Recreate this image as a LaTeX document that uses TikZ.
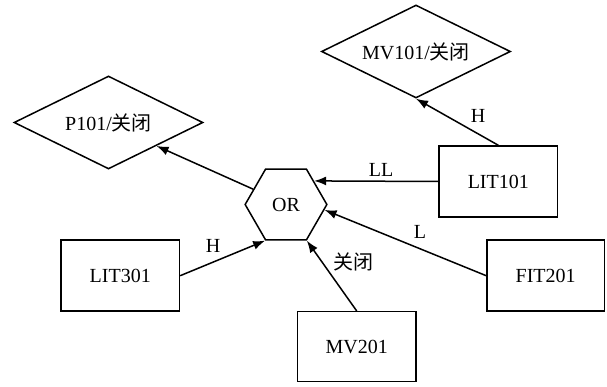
\documentclass[tikz,border=0pt]{standalone}
\usepackage{fontspec}
\setmainfont{Liberation Serif}
\newfontfamily\cjk{Noto Sans CJK SC}
\usetikzlibrary{shapes.geometric,arrows.meta}
\tikzset{
  base/.style={draw=black, line width=1.5pt, inner sep=0pt, font=\fontsize{20}{23}\selectfont},
  boxnode/.style={base, rectangle, minimum width=118.5pt, minimum height=71pt},
  decision/.style={base, diamond, aspect=2, minimum width=189pt, minimum height=93pt},
  gate/.style={base, regular polygon, regular polygon sides=6, minimum size=81.7pt},
  conn/.style={line width=1.5pt, -{Latex[length=12pt,width=9pt]}},
  lbl/.style={inner sep=0pt, font=\fontsize{20}{23}\selectfont}
}
\begin{document}
\begin{tikzpicture}[x=1pt,y=-1pt]
\useasboundingbox (0,0) rectangle (607,387);
\node[decision] (mv101) at (416,51.5) {MV101/{\cjk 关闭}};
\node[decision] (p101) at (108.5,122.5) {P101/{\cjk 关闭}};
\node[gate] (or) at (286,204.5) {OR};
\node[boxnode] (lit101) at (498.3,181.5) {LIT101};
\node[boxnode] (lit301) at (120.2,275.7) {LIT301};
\node[boxnode, minimum width=117.5pt] (fit201) at (545.7,275.7) {FIT201};
\node[boxnode, minimum height=70pt] (mv201) at (356.7,346.7) {MV201};

\draw[conn] (lit101.north) -- (mv101.south);
\draw[conn] (lit101.west) -- (or.40);
\draw[conn] (or.155) -- (p101.-26.5);
\draw[conn] (lit301.east) -- (or.-120);
\draw[conn] (mv201.north) -- (or.-60);
\draw[conn] (fit201.west) -- (or.-8);

\node[lbl] (lh1) at (478,116) {H};
\node[lbl] (lll) at (381,170) {LL};
\node[lbl] (lh2) at (213,246) {H};
\node[lbl] (lclose) at (353,262) {\cjk 关闭};
\node[lbl] (ll) at (420,232) {L};
\end{tikzpicture}
\end{document}
